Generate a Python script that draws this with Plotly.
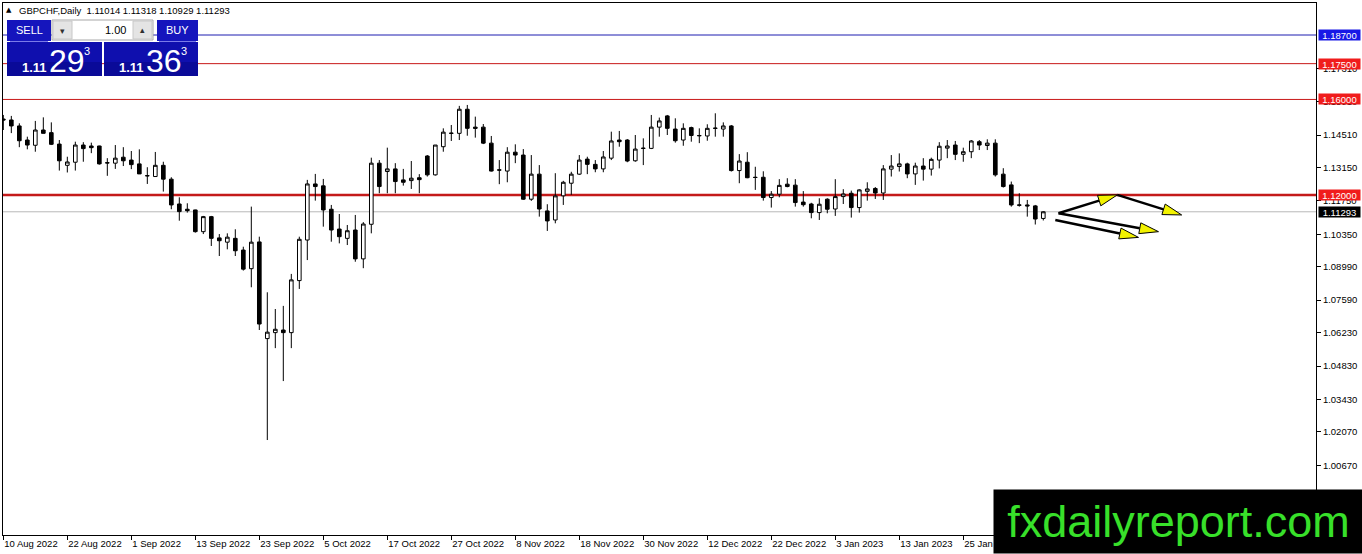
import math
import plotly.graph_objects as go

# GBPCHF daily bars, index 0 = 10 Aug 2022
opens = [
    1.1518, 1.1514, 1.1489, 1.1430, 1.1408, 1.1472, 1.1461, 1.1413, 1.1324, 1.1337,
    1.1409, 1.1405, 1.1405, 1.1335, 1.1333, 1.1358, 1.1346, 1.1330, 1.1281, 1.1277,
    1.1324, 1.1266, 1.1162, 1.1140, 1.1137, 1.1046, 1.1109, 1.1020, 1.1002, 1.1018,
    1.0969, 1.0891, 1.1003, 1.0598, 1.0623, 1.0634, 1.0623, 1.0841, 1.1011, 1.1246,
    1.1238, 1.1140, 1.1057, 1.1018, 1.1053, 1.0932, 1.1077, 1.1333, 1.1298, 1.1309,
    1.1263, 1.1260, 1.1272, 1.1363, 1.1284, 1.1402, 1.1459, 1.1458, 1.1559, 1.1484,
    1.1484, 1.1417, 1.1305, 1.1300, 1.1379, 1.1367, 1.1182, 1.1287, 1.1133, 1.1095,
    1.1196, 1.1249, 1.1287, 1.1350, 1.1328, 1.1309, 1.1354, 1.1430, 1.1430, 1.1343,
    1.1396, 1.1395, 1.1484, 1.1531, 1.1476, 1.1430, 1.1482, 1.1449, 1.1447, 1.1480,
    1.1476, 1.1489, 1.1302, 1.1337, 1.1274, 1.1274, 1.1189, 1.1203, 1.1245, 1.1241,
    1.1170, 1.1162, 1.1126, 1.1182, 1.1141, 1.1193, 1.1207, 1.1147, 1.1215, 1.1227,
    1.1208, 1.1308, 1.1319, 1.1330, 1.1288, 1.1321, 1.1308, 1.1346, 1.1396, 1.1409,
    1.1370, 1.1381, 1.1423, 1.1407, 1.1417, 1.1287, 1.1242, 1.1158, 1.1158, 1.1154,
    1.11014,
]
highs = [
    1.1535, 1.1531, 1.1500, 1.1444, 1.1510, 1.1525, 1.1504, 1.1430, 1.1360, 1.1423,
    1.1421, 1.1419, 1.1406, 1.1354, 1.1409, 1.1400, 1.1384, 1.1391, 1.1316, 1.1380,
    1.1339, 1.1274, 1.1190, 1.1165, 1.1138, 1.1112, 1.1112, 1.1036, 1.1039, 1.1056,
    1.0983, 1.1151, 1.1025, 1.0792, 1.0722, 1.0735, 1.0869, 1.1025, 1.1263, 1.1288,
    1.1267, 1.1158, 1.1120, 1.1074, 1.1116, 1.1086, 1.1356, 1.1346, 1.1398, 1.1333,
    1.1309, 1.1342, 1.1287, 1.1367, 1.1409, 1.1479, 1.1493, 1.1573, 1.1577, 1.1528,
    1.1497, 1.1447, 1.1346, 1.1400, 1.1412, 1.1392, 1.1367, 1.1325, 1.1161, 1.1291,
    1.1259, 1.1297, 1.1367, 1.1360, 1.1346, 1.1384, 1.1465, 1.1468, 1.1434, 1.1451,
    1.1437, 1.1535, 1.1524, 1.1535, 1.1521, 1.1500, 1.1486, 1.1479, 1.1496, 1.1542,
    1.1504, 1.1493, 1.1371, 1.1379, 1.1318, 1.1299, 1.1216, 1.1266, 1.1270, 1.1266,
    1.1216, 1.1167, 1.1186, 1.1186, 1.1266, 1.1224, 1.1218, 1.1224, 1.1253, 1.1233,
    1.1325, 1.1367, 1.1374, 1.1335, 1.1335, 1.1354, 1.1356, 1.1421, 1.1430, 1.1426,
    1.1398, 1.1430, 1.1430, 1.1433, 1.1433, 1.1312, 1.1256, 1.1207, 1.1179, 1.1158,
    1.11318,
]
lows = [
    1.1472, 1.1459, 1.1400, 1.1391, 1.1381, 1.1458, 1.1409, 1.1302, 1.1294, 1.1302,
    1.1339, 1.1375, 1.1327, 1.1280, 1.1309, 1.1321, 1.1308, 1.1288, 1.1246, 1.1276,
    1.1214, 1.1140, 1.1092, 1.1126, 1.1042, 1.1036, 1.0986, 1.0944, 1.0972, 1.0944,
    1.0883, 1.0813, 1.0634, 1.0173, 1.0558, 1.0420, 1.0558, 1.0806, 1.0927, 1.1176,
    1.1067, 1.1004, 1.0997, 1.0990, 1.0920, 1.0893, 1.1039, 1.1207, 1.1207, 1.1207,
    1.1239, 1.1225, 1.1207, 1.1277, 1.1281, 1.1381, 1.1426, 1.1430, 1.1448, 1.1440,
    1.1413, 1.1298, 1.1245, 1.1253, 1.1333, 1.1179, 1.1175, 1.1109, 1.1049, 1.1081,
    1.1158, 1.1200, 1.1284, 1.1287, 1.1295, 1.1295, 1.1346, 1.1402, 1.1337, 1.1339,
    1.1325, 1.1392, 1.1444, 1.1451, 1.1419, 1.1406, 1.1423, 1.1417, 1.1427, 1.1444,
    1.1444, 1.1298, 1.1249, 1.1270, 1.1221, 1.1176, 1.1147, 1.1190, 1.1232, 1.1151,
    1.1151, 1.1102, 1.1095, 1.1123, 1.1112, 1.1162, 1.1105, 1.1126, 1.1176, 1.1183,
    1.1179, 1.1277, 1.1298, 1.1270, 1.1242, 1.1260, 1.1281, 1.1311, 1.1354, 1.1346,
    1.1339, 1.1354, 1.1388, 1.1388, 1.1277, 1.1231, 1.1151, 1.1151, 1.1109, 1.1076,
    1.10929,
]
closes = [
    1.1514, 1.1489, 1.1427, 1.1409, 1.1472, 1.1458, 1.1412, 1.1343, 1.1338, 1.1409,
    1.1394, 1.1398, 1.1330, 1.1334, 1.1354, 1.1343, 1.1327, 1.1288, 1.1280, 1.1324,
    1.1266, 1.1158, 1.1130, 1.1134, 1.1046, 1.1109, 1.1018, 1.1008, 1.1023, 1.0966,
    1.0889, 1.1002, 1.0659, 1.0625, 1.0637, 1.0623, 1.0844, 1.1014, 1.1246, 1.1235,
    1.1137, 1.1053, 1.1025, 1.1050, 1.0932, 1.1078, 1.1333, 1.1235, 1.1309, 1.1256,
    1.1253, 1.1270, 1.1264, 1.1284, 1.1409, 1.1463, 1.1458, 1.1559, 1.1479, 1.1479,
    1.1417, 1.1300, 1.1304, 1.1379, 1.1367, 1.1182, 1.1287, 1.1141, 1.1091, 1.1196,
    1.1253, 1.1287, 1.1346, 1.1328, 1.1309, 1.1359, 1.1426, 1.1423, 1.1342, 1.1392,
    1.1395, 1.1484, 1.1510, 1.1479, 1.1427, 1.1479, 1.1449, 1.1448, 1.1479, 1.1479,
    1.1489, 1.1302, 1.1342, 1.1272, 1.1273, 1.1189, 1.1203, 1.1240, 1.1235, 1.1168,
    1.1159, 1.1126, 1.1161, 1.1140, 1.1193, 1.1204, 1.1147, 1.1221, 1.1225, 1.1208,
    1.1309, 1.1321, 1.1330, 1.1288, 1.1321, 1.1308, 1.1349, 1.1404, 1.1405, 1.1370,
    1.1381, 1.1426, 1.1409, 1.1417, 1.1284, 1.1235, 1.1158, 1.1157, 1.1154, 1.1099,
    1.11293,
]

date_ticks = [0, 8, 16, 24, 32, 40, 48, 56, 64, 72, 80, 88, 96, 104, 112, 120]
date_labels = [
    "10 Aug 2022", "22 Aug 2022", "1 Sep 2022", "13 Sep 2022", "23 Sep 2022",
    "5 Oct 2022", "17 Oct 2022", "27 Oct 2022", "8 Nov 2022", "18 Nov 2022",
    "30 Nov 2022", "12 Dec 2022", "22 Dec 2022", "3 Jan 2023", "13 Jan 2023",
    "25 Jan 2023",
]
price_ticks = [1.17310, 1.15910, 1.14510, 1.13150, 1.11750, 1.10350, 1.08990,
               1.07590, 1.06230, 1.04830, 1.03430, 1.02070, 1.00670]

level_prices = [1.18700, 1.17500, 1.16000, 1.12000]
level_lines = ["#1c1cb0", "#c81818", "#c81818", "#c41a1a"]
level_tags = ["#1818e6", "#f01c1c", "#f01c1c", "#f01c1c"]
level_widths = [1, 1, 1, 2.5]
bid_price = 1.11293

header = "GBPCHF,Daily\u00a0\u00a01.11014 1.11318 1.10929 1.11293"
sell_quote = ["1.11", "29", "3"]
buy_quote = ["1.11", "36", "3"]
lot_size = "1.00"

# drawn arrows: (bar0, price0, bar1, price1)
arrows = [
    (131.9, 1.1123, 139.25, 1.1200),
    (139.25, 1.1200, 147.3, 1.1116),
    (131.9, 1.1123, 144.4, 1.1046),
    (131.5, 1.1095, 141.9, 1.1022),
]

W, H = 1362, 554
ML, MR, MT, MB = 3, 46, 3, 19
x_range = [-0.04, 164.09]
y_range = [0.977505, 1.200413]
FONT = "Liberation Sans"


def px(x):
    return (x - ML) / (W - ML - MR)


def py(y):
    return (H - MB - y) / (H - MT - MB)


fig = go.Figure()
fig.add_trace(go.Candlestick(
    x=list(range(len(opens))),
    open=opens, high=highs, low=lows, close=closes,
    increasing=dict(line=dict(color="black", width=1), fillcolor="white"),
    decreasing=dict(line=dict(color="black", width=1), fillcolor="black"),
    hoverinfo="skip",
))

shapes = []
for p, c, w in zip(level_prices, level_lines, level_widths):
    shapes.append(dict(type="line", xref="paper", yref="y", x0=0, x1=1, y0=p, y1=p,
                       line=dict(color=c, width=w), layer="below"))
shapes.append(dict(type="line", xref="paper", yref="y", x0=0, x1=1, y0=bid_price, y1=bid_price,
                   line=dict(color="#b8b8b8", width=1), layer="below"))

# arrows: black shaft with a yellow head
xs = (W - ML - MR) / (x_range[1] - x_range[0])
ys = (H - MT - MB) / (y_range[1] - y_range[0])
for x0, y0, x1, y1 in arrows:
    dx, dy = (x1 - x0) * xs, (y1 - y0) * ys
    n = math.hypot(dx, dy)
    ux, uy = dx / n, dy / n
    head, half = 19, 5.5
    bx, by = x1 - ux * head / xs, y1 - uy * head / ys
    c1 = (bx - uy * half / xs, by + ux * half / ys)
    c2 = (bx + uy * half / xs, by - ux * half / ys)
    shapes.append(dict(type="line", xref="x", yref="y", x0=x0, y0=y0, x1=bx, y1=by,
                       line=dict(color="black", width=2.5), layer="above"))
    shapes.append(dict(type="path", xref="x", yref="y",
                       path=f"M {x1},{y1} L {c1[0]},{c1[1]} L {c2[0]},{c2[1]} Z",
                       fillcolor="#f2f200", line=dict(color="black", width=1), layer="above"))


def rect(x0, y0, x1, y1, fill, line=None):
    shapes.append(dict(type="rect", xref="paper", yref="paper",
                       x0=px(x0), x1=px(x1), y0=py(y1), y1=py(y0),
                       fillcolor=fill, line=dict(width=1 if line else 0, color=line or fill),
                       layer="above"))


# one-click trading panel
rect(7, 20, 51, 41, "#1515bd")
rect(157, 20, 198, 41, "#1515bd")
rect(7, 42, 102, 76, "#0f0fae")
rect(104, 42, 198, 76, "#0f0fae")
rect(7, 62, 102, 76, "#0a0a98")
rect(104, 62, 198, 76, "#0a0a98")
rect(52, 20, 153, 40, "white", "#a8a8a8")
rect(53, 21, 72, 39, "#e4e4e4", "#c8c8c8")
rect(133, 21, 152, 39, "#e4e4e4", "#c8c8c8")
shapes.append(dict(type="line", xref="paper", yref="paper", x0=px(10), x1=px(48),
                   y0=py(41.5), y1=py(41.5), line=dict(color="#7a7ae8", width=1), layer="above"))
shapes.append(dict(type="line", xref="paper", yref="paper", x0=px(159), x1=px(196),
                   y0=py(41.5), y1=py(41.5), line=dict(color="#7a7ae8", width=1), layer="above"))

ann = []


def text(x, y, s, size, color="black", xanchor="left", bold=False, family=FONT):
    ann.append(dict(xref="paper", yref="paper", x=px(x), y=py(y), text=f"<b>{s}</b>" if bold else s,
                    showarrow=False, xanchor=xanchor, yanchor="middle",
                    font=dict(family=family, size=size, color=color)))


text(4, 10, "\u25b2", 7, family="DejaVu Sans")
text(17, 10, header, 9.5)
text(29, 30, "SELL", 11, "white", "center")
text(177, 30, "BUY", 11, "white", "center")
text(128, 30, lot_size, 11, "black", "right")
text(62.5, 31, "\u25be", 9, "#303030", "center", family="DejaVu Sans")
text(142.5, 30, "\u25b4", 9, "#303030", "center", family="DejaVu Sans")
for x0, q in ((20, sell_quote), (117, buy_quote)):
    text(x0, 67, q[0], 13, "white", bold=True)
    text(x0 + 27, 61, q[1], 32, "white")
    text(x0 + 62, 51, q[2], 11, "white")

for p, c in zip(level_prices, level_tags):
    ann.append(dict(xref="paper", yref="y", x=1, y=p, xanchor="left", yanchor="middle", xshift=2,
                    text=f"{p:.5f}", showarrow=False, bgcolor=c, width=41, height=10, borderpad=0,
                    font=dict(family=FONT, size=9.5, color="white")))
ann.append(dict(xref="paper", yref="y", x=1, y=bid_price, xanchor="left", yanchor="middle", xshift=2,
                text=f"{bid_price:.5f}", showarrow=False, bgcolor="black", width=41, height=10,
                borderpad=0, font=dict(family=FONT, size=9.5, color="white")))

# watermark box
ann.append(dict(xref="paper", yref="paper", x=px(993), y=py(554), xanchor="left", yanchor="bottom",
                text="fxdailyreport.com", showarrow=False, bgcolor="black", width=369, height=63,
                borderpad=0, font=dict(family=FONT, size=45, color="#38e02a")))

fig.update_layout(
    width=W, height=H,
    margin=dict(l=ML, r=MR, t=MT, b=MB, pad=0),
    paper_bgcolor="white", plot_bgcolor="white",
    showlegend=False, hovermode=False, boxgap=0.35,
    shapes=shapes, annotations=ann,
    xaxis=dict(range=x_range, tickvals=date_ticks, ticktext=date_labels,
               ticks="outside", ticklen=4, tickcolor="black", ticklabelposition="outside right",
               showline=True, linecolor="black", linewidth=1, mirror=True,
               showgrid=False, zeroline=False, rangeslider=dict(visible=False),
               tickfont=dict(family=FONT, size=9.5, color="black")),
    yaxis=dict(range=y_range, side="right", tickvals=price_ticks,
               ticktext=[f"{v:.5f}" for v in price_ticks],
               ticks="outside", ticklen=4, tickcolor="black",
               showline=True, linecolor="black", linewidth=1, mirror=True,
               showgrid=False, zeroline=False,
               tickfont=dict(family=FONT, size=9.5, color="black")),
)

fig.write_html("out.html", config=dict(displayModeBar=False, staticPlot=True),
               post_script="document.body.style.margin='0';document.body.style.overflow='hidden';")
